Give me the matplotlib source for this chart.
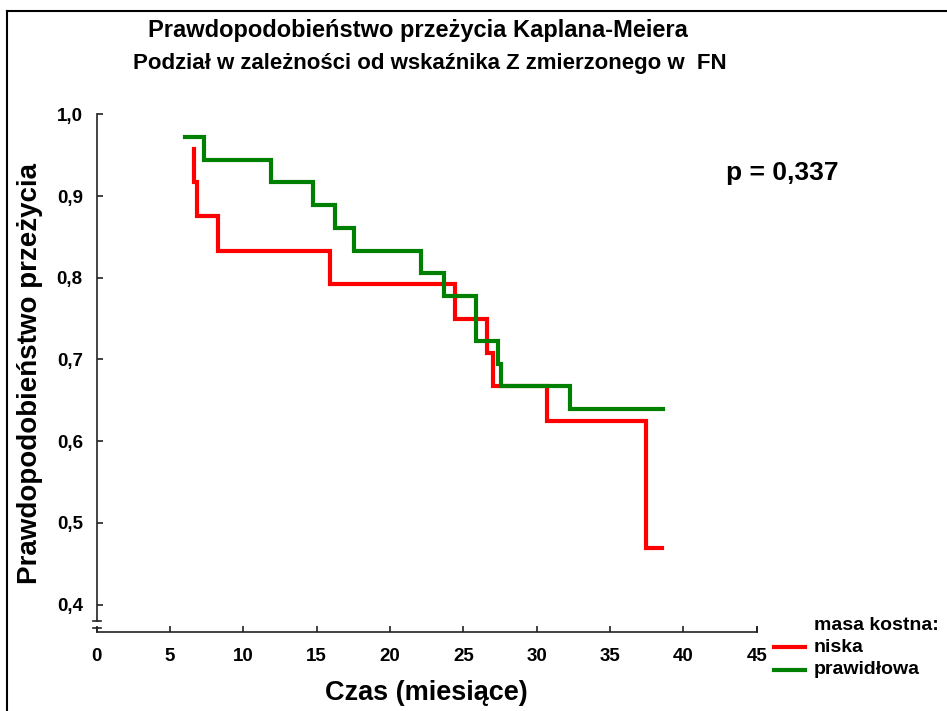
import matplotlib
matplotlib.use("Agg")
import matplotlib.pyplot as plt
from matplotlib.lines import Line2D

plt.rcParams["font.family"] = ["Liberation Sans", "DejaVu Sans"]
plt.rcParams["font.weight"] = "bold"

# Kaplan-Meier steps, read per group: time (months) and survival probability
red_t = [6.62, 6.65, 6.82, 8.29, 15.90, 24.42, 26.59, 27.04, 30.68, 37.42, 38.51]
red_s = [0.958, 0.917, 0.875, 0.833, 0.792, 0.750, 0.708, 0.667, 0.625, 0.469, 0.469]

green_t = [6.02, 7.31, 11.86, 14.72, 16.24, 17.54, 22.09, 23.69, 25.86, 27.34, 27.56, 32.26, 38.62]
green_s = [0.972, 0.944, 0.917, 0.889, 0.861, 0.833, 0.806, 0.778, 0.722, 0.694, 0.667, 0.639, 0.639]

x_ticks = [0, 5, 10, 15, 20, 25, 30, 35, 40, 45]
y_ticks = [0.4, 0.5, 0.6, 0.7, 0.8, 0.9, 1.0]
y_labels = ["0,4", "0,5", "0,6", "0,7", "0,8", "0,9", "1,0"]

groups = ["niska", "prawidłowa"]
colors = ["#ff0000", "#008000"]

W, H = 947, 711
fig = plt.figure(figsize=(W / 100, H / 100), dpi=100)
ax = fig.add_axes([96.7 / W, 1 - 632.3 / H, 660 / W, 518 / H])

ax.step(red_t, red_s, where="post", color=colors[0], lw=3,
        solid_joinstyle="miter")
ax.step(green_t, green_s, where="post", color=colors[1], lw=3,
        solid_joinstyle="miter")

ax.set_xlim(0, 45)
ax.set_ylim(0.366, 1.0)
ax.set_xticks(x_ticks)
ax.set_yticks(y_ticks)
ax.set_yticklabels(y_labels)

for s in ("top", "right"):
    ax.spines[s].set_visible(False)
axis_col = "#222222"
ax.spines["bottom"].set_color(axis_col)
ax.spines["left"].set_color(axis_col)
ax.spines["bottom"].set_linewidth(1.2)
ax.spines["left"].set_linewidth(1.2)

# broken y axis near the bottom
brk_hi, brk_lo = 0.380, 0.3713
ax.spines["left"].set_bounds(brk_hi, 1.0)
ax.plot([0, 0], [0.366, brk_lo], color=axis_col, lw=1.2, clip_on=False)
for yb in (brk_hi, brk_lo):
    ax.plot([-0.28, 0.28], [yb, yb], color=axis_col, lw=1.2, clip_on=False)
# closing tick at the end of the x axis
ax.plot([45, 45], [0.366, 0.3725], color=axis_col, lw=1.2, clip_on=False)

ax.tick_params(direction="in", length=4, width=1.2, color=axis_col,
               labelsize=13.5, pad=11)
ax.tick_params(axis="y", pad=10)
for lab in ax.get_xticklabels() + ax.get_yticklabels():
    lab.set_fontweight("bold")

ax.set_xlabel("Czas (miesiące)", fontsize=19.5, fontweight="bold", labelpad=11)
ax.set_ylabel("Prawdopodobieństwo przeżycia", fontsize=20, fontweight="bold",
              labelpad=10)

fig.text(418 / W, 1 - 31 / H, "Prawdopodobieństwo przeżycia Kaplana-Meiera",
         ha="center", va="center", fontsize=17, fontweight="bold")
fig.text(430 / W, 1 - 63 / H, "Podział w zależności od wskaźnika Z zmierzonego w  FN",
         ha="center", va="center", fontsize=16, fontweight="bold")
fig.text(726 / W, 1 - 173 / H, "p = 0,337", ha="left", va="center",
         fontsize=19, fontweight="bold")

# legend
fig.text(814 / W, 1 - 625 / H, "masa kostna:", ha="left", va="center",
         fontsize=14, fontweight="bold")
for i, (g, c) in enumerate(zip(groups, colors)):
    yy = 1 - (647 + 23 * i) / H
    fig.add_artist(Line2D([774 / W, 805 / W], [yy, yy], color=c, lw=3))
    fig.text(814 / W, yy, g, ha="left", va="center", fontsize=14,
             fontweight="bold")

# frame lines along left and top edges
fig.add_artist(Line2D([6.5 / W, 6.5 / W], [0, 1 - 10.5 / H], color="black", lw=1.5))
fig.add_artist(Line2D([6.5 / W, 1], [1 - 10.5 / H, 1 - 10.5 / H], color="black", lw=1.5))

fig.savefig("out.png", dpi=100)
